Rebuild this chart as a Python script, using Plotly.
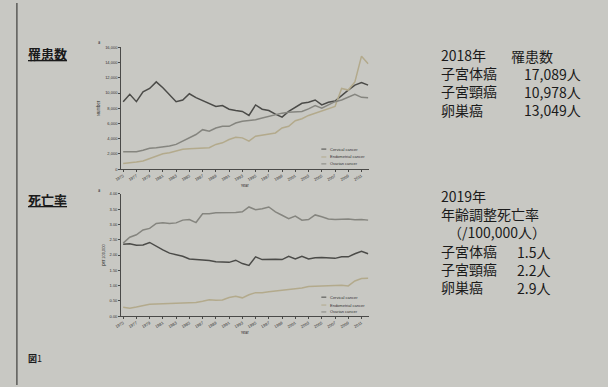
import plotly.graph_objects as go

years = list(range(1975, 2013))
tick_years = list(range(1975, 2012, 2))

# Incidence (number of cases)
inc_cervical = [8870, 9830, 8870, 10170, 10600, 11470, 10690, 9830, 8870, 9090,
                9910, 9390, 9000, 8660, 8230, 8350, 7880, 7710, 7580, 7060,
                8440, 7880, 7710, 7230, 6840, 7580, 8100, 8660, 8790, 9090,
                8440, 8790, 8960, 9740, 10390, 11040, 11390, 11040]
inc_endometrial = [740, 820, 950, 1080, 1430, 1730, 2030, 2160, 2380, 2600,
                   2680, 2730, 2730, 2810, 3250, 3460, 3900, 4200, 4110, 3680,
                   4330, 4460, 4550, 4760, 5410, 5630, 6360, 6620, 7060, 7360,
                   7660, 8000, 8230, 10600, 10390, 11470, 14850, 13850]
inc_ovarian = [2290, 2290, 2290, 2470, 2730, 2810, 2900, 3030, 3250, 3680,
               4200, 4550, 5190, 4980, 5410, 5630, 5630, 6060, 6280, 6360,
               6490, 6710, 6930, 7140, 7360, 7490, 7580, 7580, 7920, 8350,
               8000, 8440, 8870, 9090, 9440, 9830, 9440, 9390]

# Mortality (per 100,000)
mort_cervical = [2.35, 2.37, 2.32, 2.33, 2.41, 2.28, 2.17, 2.06, 2.00, 1.96,
                 1.87, 1.85, 1.85, 1.82, 1.78, 1.77, 1.76, 1.83, 1.72, 1.66,
                 1.94, 1.85, 1.86, 1.86, 1.85, 1.96, 1.87, 1.96, 1.87, 1.91,
                 1.92, 1.90, 1.89, 1.94, 1.94, 2.04, 2.12, 2.04]
mort_endometrial = [0.29, 0.26, 0.30, 0.34, 0.39, 0.40, 0.41, 0.42, 0.43, 0.43,
                    0.44, 0.45, 0.49, 0.54, 0.52, 0.53, 0.61, 0.65, 0.60, 0.70,
                    0.77, 0.77, 0.80, 0.82, 0.84, 0.88, 0.90, 0.92, 0.97, 0.98,
                    0.99, 1.01, 1.02, 1.01, 0.99, 1.15, 1.23, 1.24]
mort_ovarian = [2.39, 2.58, 2.66, 2.82, 2.87, 3.03, 3.05, 3.03, 3.05, 3.14,
                3.16, 3.06, 3.35, 3.35, 3.38, 3.38, 3.39, 3.39, 3.41, 3.57,
                3.48, 3.51, 3.57, 3.41, 3.30, 3.19, 3.27, 3.14, 3.16, 3.31,
                3.25, 3.18, 3.16, 3.17, 3.18, 3.15, 3.16, 3.14]

series_names = ["Cervical cancer", "Endometrial cancer", "Ovarian cancer"]
colors = ["#4b4b48", "#b3aa8c", "#85857f"]

# Right-hand summary text
inc_title = ["2018年", "罹患数"]
inc_labels = ["子宮体癌", "子宮頸癌", "卵巣癌"]
inc_values = ["17,089人", "10,978人", "13,049人"]
mort_title = ["2019年", "年齢調整死亡率", "（/100,000人）"]
mort_labels = ["子宮体癌", "子宮頸癌", "卵巣癌"]
mort_values = ["1.5人", "2.2人", "2.9人"]

W, H = 608, 387
BG = "#c8c8c3"
FONT = "Noto Sans CJK JP"

fig = go.Figure()

top = [inc_cervical, inc_endometrial, inc_ovarian]
bot = [mort_cervical, mort_endometrial, mort_ovarian]
for i in range(3):
    fig.add_trace(go.Scatter(x=years, y=top[i], mode="lines", name=series_names[i],
                             line=dict(color=colors[i], width=1.5), showlegend=False,
                             xaxis="x", yaxis="y"))
for i in range(3):
    fig.add_trace(go.Scatter(x=years, y=bot[i], mode="lines", name=series_names[i],
                             line=dict(color=colors[i], width=1.5), showlegend=False,
                             xaxis="x2", yaxis="y2"))

def py(p):
    return 1 - p / H

def px(p):
    return p / W

axis_common = dict(showline=True, linecolor="#4a4a48", linewidth=1, showgrid=False,
                   zeroline=False, ticks="outside", ticklen=2, tickcolor="#4a4a48",
                   tickfont=dict(size=4, color="#333333", family="Liberation Sans"))

xdom = [px(115.5), px(366)]
shapes = [dict(type="line", xref="paper", yref="paper", x0=px(10), x1=px(10), y0=0, y1=1,
               line=dict(color="#5a5a57", width=1.5))]

fig.update_layout(
    width=W, height=H, margin=dict(l=0, r=0, t=0, b=0),
    paper_bgcolor=BG, plot_bgcolor=BG, showlegend=False,
    font=dict(family=FONT, color="#1e1e1e"),
    xaxis=dict(domain=xdom, anchor="y", range=[1974.7, 2012.1], tickvals=tick_years,
               tickangle=-30, title=dict(text="Year", font=dict(size=4), standoff=2),
               **axis_common),
    yaxis=dict(domain=[py(168.3), py(45)], anchor="x", range=[0, 16000], dtick=2000,
               tickformat=",", title=dict(text="Number", font=dict(size=4), standoff=4),
               **axis_common),
    xaxis2=dict(domain=xdom, anchor="y2", range=[1974.7, 2012.1], tickvals=tick_years,
                tickangle=-30, title=dict(text="Year", font=dict(size=4), standoff=2),
                **axis_common),
    yaxis2=dict(domain=[py(317.3), py(193.3)], anchor="x2", range=[0, 4], dtick=0.5,
                tickformat=".2f", title=dict(text="per 100,000", font=dict(size=4), standoff=4),
                **axis_common),
)

ann = []
def txt(x, y, s, size=14, anchor="left", color="#1a1a1a", family=FONT, align="left"):
    ann.append(dict(x=px(x), y=py(y), xref="paper", yref="paper", text=s, showarrow=False,
                    xanchor=anchor, yanchor="middle", align=align,
                    font=dict(size=size, family=family, color=color)))

# small legends inside each chart
for ys in ([148, 156, 163], [298, 306, 313]):
    for i in range(3):
        shapes.append(dict(type="line", xref="paper", yref="paper",
                           x0=px(318), x1=px(323), y0=py(ys[i]), y1=py(ys[i]),
                           line=dict(color=colors[i], width=1)))
        txt(325, ys[i], series_names[i], size=4, family="Liberation Sans", color="#333333")

txt(19, 51, "<b><u>罹患数</u></b>", size=13)
txt(19, 199, "<b><u>死亡率</u></b>", size=13)
txt(19, 360, "<b>図</b>1", size=9)
txt(90, 40, "a", size=4)
txt(90, 189, "a", size=4)

# right-hand text blocks
txt(437, 80.5, "<br>".join([inc_title[0]] + inc_labels), size=14)
txt(508, 53.5, inc_title[1], size=14)
txt(583, 90, "<br>".join(inc_values), size=14, anchor="right", align="right")

txt(437, 242, "<br>".join([mort_title[0], mort_title[1], "　" + mort_title[2]] + mort_labels),
    size=14)
txt(514, 270, "<br>".join(mort_values), size=14)

fig.update_layout(annotations=ann, shapes=shapes)
fig.write_html("out.html", config={"displayModeBar": False},
               post_script="document.body.style.margin='0';document.body.style.background='%s';" % BG)
